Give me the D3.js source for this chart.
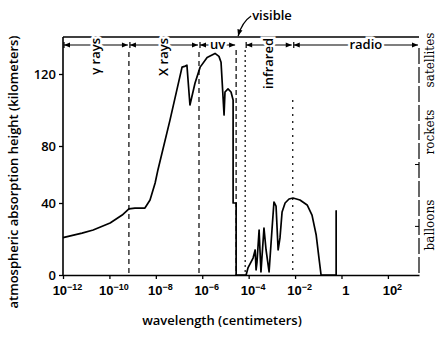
<!doctype html>
<html>
<head>
<script src="https://d3js.org/d3.v7.min.js"></script>
<style>
body { margin: 0; background: #fff; }
svg { display: block; font-family: "Open Sans", sans-serif; }
</style>
</head>
<body>
<script>
// absorption curve: log10 of wavelength (cm) and height (km)
var curveExp = [-12.0, -11.18, -10.7, -9.97, -9.45, -9.16, -8.9, -8.47, -8.25, -8.03, -7.91, -7.39,
  -6.87, -6.73, -6.66, -6.53, -6.31, -6.09, -5.79, -5.45, -5.28, -5.19, -5.06, -5.02, -4.89, -4.76,
  -4.67, -4.67, -4.54, -4.54, -4.11, -4.03, -3.9, -3.81, -3.72, -3.68, -3.64, -3.55, -3.47, -3.34,
  -3.25, -3.12, -2.99, -2.91, -2.82, -2.73, -2.65, -2.56, -2.43, -2.26, -2.09, -1.79, -1.48, -1.27,
  -1.09, -0.97, -0.88, -0.23, -0.23, -0.23];
var curveKm = [20.8, 23.3, 25.0, 28.9, 33.3, 36.7, 37.2, 37.2, 42.1, 54.0, 63.2, 94.4,
  123.9, 124.5, 125.0, 102.8, 115.0, 123.9, 129.4, 131.7, 130.0, 126.7, 97.2, 110.0, 111.7, 110.0,
  105.6, 40, 40, 0, 0, 3.9, 7.2, 9.4, 13.9, 2.8, 7.2, 25.0, 1.7, 26.1,
  13.9, 1.7, 26.1, 40.7, 38.3, 13.9, 20.6, 35.0, 40.0, 42.8, 43.5, 42.1, 38.9, 33.3,
  22.2, 9.4, 0, 0, 35.6, 0];

// spectral bands (edges as log10 wavelength)
var bandNames = ["\u03b3 rays", "X rays", "uv", "visible", "infrared", "radio"];
var bandEdges = [-12, -9.16, -6.14, -4.54, -4.15, -2.1, 3.34];
var bandRotated = [true, true, false, false, true, false];

var xTicks = [-12, -10, -8, -6, -4, -2, 0, 2];
var yTicks = [0, 40, 80, 120];

var platforms = ["balloons", "rockets", "satellites"];
var platformKm = [27, 67];

var width = 440, height = 338;
var svg = d3.select("body").append("svg").attr("width", width).attr("height", height);

var x = d3.scaleLog().domain([1e-12, Math.pow(10, 3.34)]).range([63, 419]);
var y = d3.scaleLinear().domain([0, 40, 80, 120, 141]).range([275, 203, 146, 74, 37]);
var xe = function(e) { return x(Math.pow(10, e)); };

// top frame line
svg.append("line")
  .attr("x1", x.range()[0]).attr("x2", x.range()[1])
  .attr("y1", y(141)).attr("y2", y(141))
  .attr("stroke", "#000").attr("stroke-width", 1.6);

// right dashed line (platforms)
svg.append("line")
  .attr("x1", x.range()[1]).attr("x2", x.range()[1])
  .attr("y1", 48).attr("y2", y(0))
  .attr("stroke", "#000").attr("stroke-width", 1.2)
  .attr("stroke-dasharray", "16,3");
svg.selectAll(".ptick").data(platformKm).enter().append("line")
  .attr("x1", x.range()[1] - 4).attr("x2", x.range()[1])
  .attr("y1", function(d) { return y(d); }).attr("y2", function(d) { return y(d); })
  .attr("stroke", "#000");

var platY = [225, 132, 60];
svg.selectAll(".plat").data(platforms).enter().append("text")
  .attr("transform", function(d, i) { return "translate(434," + platY[i] + ") rotate(-90)"; })
  .attr("text-anchor", "middle")
  .attr("font-size", "12px")
  .attr("font-family", "DejaVu Serif, serif")
  .text(function(d) { return d; });

// axes
var xAxis = d3.axisBottom(x).tickValues(xTicks.map(function(e) { return Math.pow(10, e); }))
  .tickSize(4).tickSizeOuter(0).tickFormat("");
var gx = svg.append("g").attr("transform", "translate(0," + y(0) + ")").call(xAxis);
gx.select(".domain").attr("stroke-width", 1.6);
gx.selectAll(".tick line").attr("stroke-width", 1.3);
gx.selectAll(".tick").append("text")
  .attr("fill", "#000").attr("y", 20).attr("x", 4)
  .attr("text-anchor", "middle")
  .attr("font-size", "13px").attr("font-weight", 600)
  .each(function(d) {
    var e = Math.round(Math.log10(d));
    var t = d3.select(this);
    if (e === 0) { t.text("1"); return; }
    t.append("tspan").text("10");
    t.append("tspan").attr("dy", "-0.55em").attr("font-size", "9px")
      .text(e < 0 ? "\u2212" + (-e) : e);
  });

var yAxis = d3.axisLeft(y).tickValues(yTicks).tickSize(4).tickSizeOuter(0);
var gy = svg.append("g").attr("transform", "translate(63,0)").call(yAxis);
gy.select(".domain").attr("stroke-width", 1.6).attr("d", "M0," + y(141) + "V" + y(0));
gy.selectAll(".tick line").attr("stroke-width", 1.3);
gy.selectAll(".tick text").attr("font-size", "13px").attr("font-weight", 600)
  .attr("font-family", "Open Sans, sans-serif").attr("fill", "#000");

// band boundary lines
var boundary = [
  { e: bandEdges[1], top: 52, dash: "5,4" },
  { e: bandEdges[2], top: 52, dash: "5,4" },
  { e: bandEdges[3], top: 50, dash: "5,3" },
  { e: bandEdges[4], top: 50, dash: "2,3" },
  { e: bandEdges[5], top: 100, dash: "2,5" }
];
svg.selectAll(".bnd").data(boundary).enter().append("line")
  .attr("x1", function(d) { return xe(d.e); }).attr("x2", function(d) { return xe(d.e); })
  .attr("y1", function(d) { return d.top; }).attr("y2", y(0))
  .attr("stroke", "#000").attr("stroke-width", 1.2)
  .attr("stroke-dasharray", function(d) { return d.dash; });

// band arrows
var defs = svg.append("defs");
defs.append("marker").attr("id", "ah").attr("viewBox", "0 0 10 10")
  .attr("refX", 10).attr("refY", 5).attr("markerWidth", 6).attr("markerHeight", 5)
  .attr("orient", "auto-start-reverse")
  .append("path").attr("d", "M0,1L10,5L0,9Z").attr("fill", "#000");

var bandY = 45;
bandNames.forEach(function(name, i) {
  var x0 = xe(bandEdges[i]), x1 = xe(bandEdges[i + 1]);
  if (name === "visible") return;
  svg.append("line")
    .attr("x1", x0 + 1).attr("x2", x1 - 1).attr("y1", bandY).attr("y2", bandY)
    .attr("stroke", "#000").attr("stroke-width", 1.2)
    .attr("marker-start", "url(#ah)").attr("marker-end", "url(#ah)");
  svg.append("line")
    .attr("x1", x0 + 1).attr("x2", x0 + 1).attr("y1", bandY - 3).attr("y2", bandY + 3)
    .attr("stroke", "#000").attr("stroke-width", 1.2);
  var cx = (x0 + x1) / 2;
  var t = svg.append("text")
    .attr("font-size", "13px").attr("font-weight", 600)
    .attr("stroke", "#fff").attr("stroke-width", 5).attr("paint-order", "stroke")
    .text(name);
  if (bandRotated[i]) {
    t.attr("transform", "translate(" + (cx + 4) + "," + (bandY - 7) + ") rotate(-90)")
      .attr("text-anchor", "end");
  } else {
    t.attr("x", cx + (name === "radio" ? 10 : 0)).attr("y", bandY + 4).attr("text-anchor", "middle");
  }
});

// visible label with arrow
var vx = xe(bandEdges[3]) + 2;
svg.append("path")
  .attr("d", "M" + (vx + 13) + ",16 Q" + (vx + 4) + ",22 " + vx + "," + (y(141) - 1))
  .attr("fill", "none").attr("stroke", "#000").attr("stroke-width", 1.3)
  .attr("marker-end", "url(#ah)");
svg.append("text").attr("x", vx + 14).attr("y", 20)
  .attr("font-size", "13px").attr("font-weight", 600).text(bandNames[3]);

// absorption curve
var line = d3.line()
  .x(function(d) { return xe(d[0]); })
  .y(function(d) { return y(d[1]); });
svg.append("path")
  .datum(d3.zip(curveExp, curveKm))
  .attr("d", line)
  .attr("fill", "none").attr("stroke", "#000").attr("stroke-width", 1.7)
  .attr("stroke-linejoin", "round");

// titles
svg.append("text").attr("x", 222).attr("y", 325).attr("text-anchor", "middle")
  .attr("font-size", "13px").attr("font-weight", 600)
  .text("wavelength (centimeters)");
svg.append("text").attr("transform", "translate(18,172) rotate(-90)")
  .attr("text-anchor", "middle")
  .attr("font-size", "13px").attr("font-weight", 600)
  .text("atmospheric absorption height (kilometers)");
</script>
</body>
</html>
